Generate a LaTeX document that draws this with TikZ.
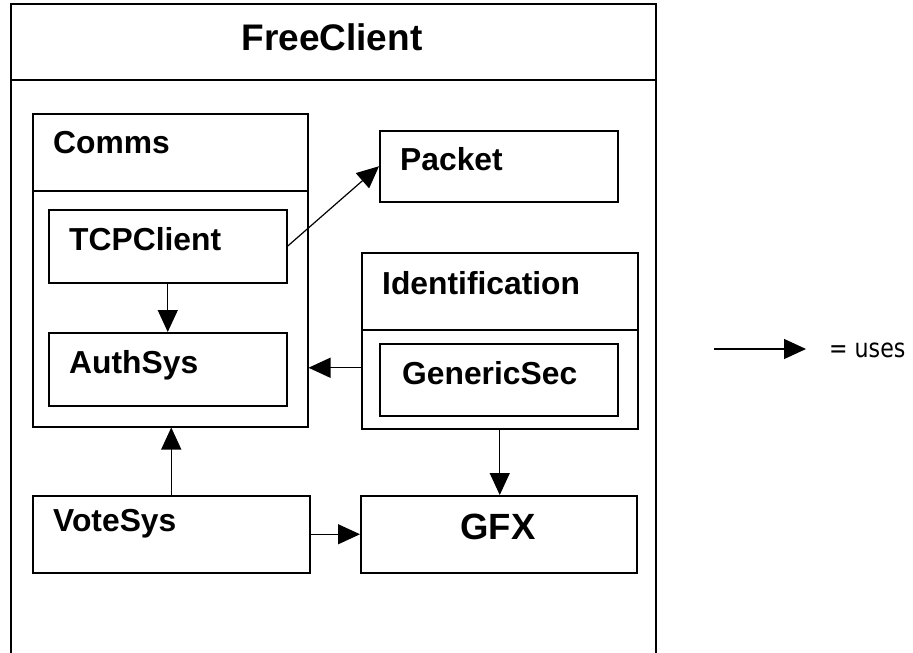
\documentclass[tikz,border=0pt]{standalone}
\usepackage{fontspec}
\setmainfont{Liberation Sans}
\newfontfamily\legendfont[FakeStretch=0.85]{DejaVu Sans}
\usetikzlibrary{arrows.meta,calc}

\tikzset{
  box/.style={draw, line width=1.5pt, inner sep=0pt, anchor=north west},
  divider/.style={line width=1.3pt},
  lbl/.style={font=\bfseries\fontsize{31.8}{31.8}\selectfont, anchor=west, inner sep=0pt},
  uses/.style={line width=1.2pt, -{Triangle[length=22pt,width=20pt]}},
}

\begin{document}
\begin{tikzpicture}[x=1pt,y=-1pt]
\useasboundingbox (0,0) rectangle (913,653);

% outer package frame (runs off the bottom edge)
\coordinate (obl) at (11,653);
\coordinate (otl) at (11,4);
\coordinate (otr) at (656,4);
\coordinate (obr) at (656,653);
\draw[line width=1.6pt] (obl) -- (otl) -- (otr) -- (obr);
\coordinate (tdl) at (11,80);
\coordinate (tdr) at (656,80);
\draw[divider] (tdl) -- (tdr);
\node[font=\bfseries\fontsize{37}{37}\selectfont, inner sep=0pt] (title) at (332,37) {FreeClient};

% Comms package
\node[box, minimum width=275pt, minimum height=313pt] (comms) at (32,113) {};
\coordinate (cdl) at (32,191);
\coordinate (cdr) at (307,191);
\draw[divider] (cdl) -- (cdr);
\node[lbl] (commsl) at (53,143) {Comms};

\node[box, minimum width=238pt, minimum height=73pt] (tcp) at (48,209) {};
\node[lbl] (tcpl) at (69,239) {TCPClient};

\node[box, minimum width=238pt, minimum height=73pt] (auth) at (48,332) {};
\node[lbl] (authl) at (69,365) {AuthSys};

% Packet
\node[box, minimum width=238pt, minimum height=71pt] (packet) at (379,130) {};
\node[lbl] (packetl) at (400,159) {Packet};

% Identification package
\node[box, minimum width=276pt, minimum height=176pt] (ident) at (361,252) {};
\coordinate (idl) at (361,330);
\coordinate (idr) at (637,330);
\draw[divider] (idl) -- (idr);
\node[lbl] (identl) at (382,283) {Identification};

\node[box, minimum width=238pt, minimum height=72pt] (gensec) at (379,343) {};
\node[lbl] (gensecl) at (402,373) {GenericSec};

% VoteSys and GFX
\node[box, minimum width=277pt, minimum height=77pt] (vote) at (32,495) {};
\node[lbl] (votel) at (53,524) {VoteSys};

\node[box, minimum width=276pt, minimum height=77pt] (gfx) at (360,495) {};
\node[font=\bfseries\fontsize{36.5}{36.5}\selectfont, inner sep=0pt] (gfxl) at (498,527) {GFX};

% dependencies
\draw[uses] (tcp.east) -- (packet.west);
\draw[uses] (tcp.south) -- (auth.north);
\coordinate (idout) at ([yshift=-27pt]ident.west);
\draw[uses] (idout) -- (idout -| comms.east);
\draw[uses] (ident.south) -- (ident.south |- gfx.north);
\draw[uses] (vote.north) -- (vote.north |- comms.south);
\draw[uses] (vote.east) -- (gfx.west);

% legend
\coordinate (legA) at (714,349);
\coordinate (legB) at (806,349);
\draw[uses] (legA) -- (legB);
\node[font=\legendfont\fontsize{26}{26}\selectfont, anchor=west, inner sep=0pt] (legtext) at (829,350) {= uses};
\end{tikzpicture}
\end{document}
